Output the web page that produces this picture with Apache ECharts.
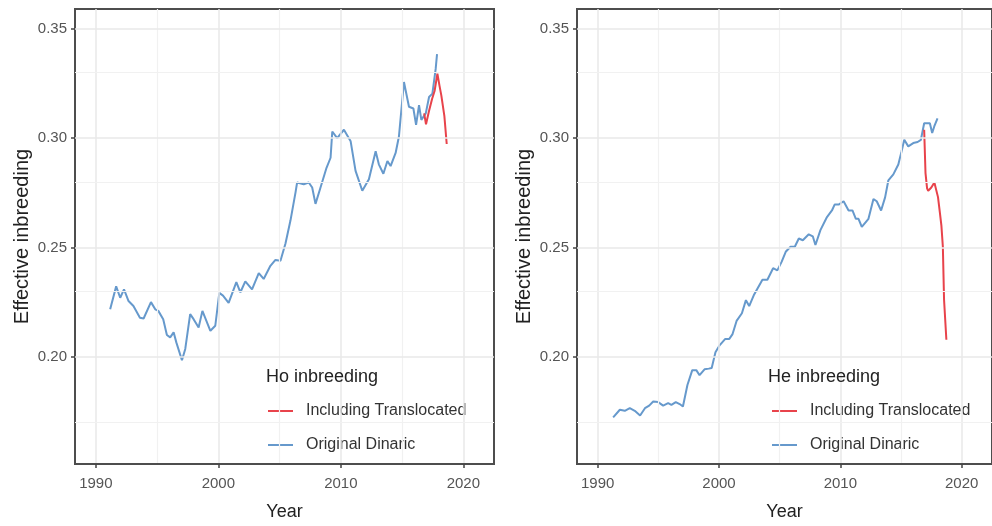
<!DOCTYPE html>
<html>
<head>
<meta charset="utf-8">
<script src="https://cdn.jsdelivr.net/npm/echarts@6/dist/echarts.min.js"></script>
<style>
  html, body { margin: 0; padding: 0; background: #fff; }
  #chart { width: 992px; height: 526px; }
</style>
</head>
<body>
<div id="chart"></div>
<script>
// Observed heterozygosity (Ho) based inbreeding
const hoOrigYears = [1991.17,1991.66,1991.99,1992.3,1992.67,1993.07,1993.6,1993.9,1994.5,1994.85,1995.1,1995.5,1995.8,1996.07,1996.35,1996.57,1997.03,1997.3,1997.7,1997.98,1998.39,1998.7,1999.35,1999.75,2000.08,2000.38,2000.84,2001.47,2001.8,2002.2,2002.75,2003.3,2003.7,2004.25,2004.66,2005.07,2005.48,2005.89,2006.3,2006.43,2006.97,2007.38,2007.66,2007.93,2008.34,2008.83,2009.16,2009.3,2009.7,2010.25,2010.8,2011.2,2011.75,2012.29,2012.84,2013.1,2013.47,2013.8,2014.06,2014.47,2014.74,2015.15,2015.56,2015.92,2016.14,2016.38,2016.57,2016.93,2017.2,2017.47,2017.74,2017.85];
const hoOrig = [0.2217,0.2322,0.2270,0.2308,0.2255,0.2232,0.2179,0.2175,0.2250,0.2217,0.2210,0.2172,0.2100,0.2089,0.2112,0.2066,0.1984,0.2036,0.2195,0.2172,0.2134,0.2210,0.2119,0.2142,0.2292,0.2280,0.2247,0.2341,0.2295,0.2345,0.2308,0.2383,0.2356,0.2416,0.2443,0.2439,0.2518,0.2624,0.2752,0.2797,0.2789,0.2797,0.2774,0.2699,0.2774,0.2864,0.2910,0.3030,0.3000,0.3038,0.2985,0.2850,0.2759,0.2812,0.2940,0.2880,0.2837,0.2895,0.2872,0.2932,0.3007,0.3256,0.3143,0.3135,0.3060,0.3150,0.3083,0.3113,0.3188,0.3203,0.3316,0.3384];
const hoTransYears = [2016.8,2016.95,2017.2,2017.45,2017.65,2017.88,2018.05,2018.2,2018.3,2018.45,2018.64];
const hoTrans = [0.3113,0.3063,0.3125,0.3180,0.3215,0.3294,0.3240,0.3195,0.3200,0.3100,0.2973];

// Expected heterozygosity (He) based inbreeding
const heOrigYears = [1991.28,1991.83,1992.24,1992.65,1993.06,1993.5,1993.9,1994.25,1994.58,1994.99,1995.4,1995.81,1996.08,1996.44,1996.76,1997.03,1997.4,1997.8,1998.13,1998.4,1998.81,1999.16,1999.4,1999.71,2000.03,2000.52,2000.85,2001.12,2001.45,2001.89,2002.22,2002.49,2002.9,2003.58,2003.99,2004.46,2004.81,2005.17,2005.5,2005.9,2006.25,2006.58,2006.91,2007.4,2007.73,2007.95,2008.36,2008.9,2009.31,2009.53,2009.86,2010.27,2010.68,2011.0,2011.28,2011.5,2011.77,2012.32,2012.73,2013.0,2013.36,2013.69,2013.96,2014.37,2014.78,2015.05,2015.27,2015.6,2016.01,2016.37,2016.64,2016.91,2017.38,2017.57,2017.74,2018.01];
const heOrig = [0.1723,0.1758,0.1753,0.1765,0.1753,0.1732,0.1765,0.1777,0.1796,0.1793,0.1777,0.1788,0.1780,0.1793,0.1784,0.1773,0.1871,0.1939,0.1939,0.1916,0.1943,0.1946,0.1949,0.2021,0.2051,0.2082,0.2082,0.2104,0.2164,0.2199,0.2259,0.2232,0.2285,0.2352,0.2352,0.2405,0.2395,0.2435,0.2480,0.2503,0.2503,0.2541,0.2533,0.2560,0.2551,0.2511,0.2579,0.2639,0.2669,0.2696,0.2696,0.2711,0.2669,0.2669,0.2631,0.2631,0.2594,0.2631,0.2721,0.2711,0.2669,0.2729,0.2807,0.2834,0.2879,0.2940,0.2992,0.2962,0.2977,0.2982,0.2992,0.3068,0.3068,0.3023,0.3053,0.3090];
const heTransYears = [2016.91,2017.02,2017.15,2017.24,2017.5,2017.75,2017.9,2018.05,2018.2,2018.33,2018.45,2018.55,2018.74];
const heTrans = [0.3038,0.2840,0.2770,0.2759,0.2774,0.2797,0.2795,0.2730,0.2661,0.2600,0.2503,0.2260,0.2078];

// Axis ticks and reference lines
const yearTicks = [1990, 2000, 2010, 2020];
const yearMinor = [1995, 2005, 2015];
const valueTicks = [0.20, 0.25, 0.30, 0.35];
const valueMinor = [0.175, 0.225, 0.275, 0.325];
const groupNames = ['Including Translocated', 'Original Dinaric'];
const panelTitles = ['Ho inbreeding', 'He inbreeding'];

const RED = '#e8434b';
const BLUE = '#6699cc';
const FONT = '"Liberation Sans", Arial, sans-serif';

const pairs = (xs, ys) => xs.map((x, i) => [x, ys[i]]);

const gridRect = [
  { left: 75, top: 9, width: 419, height: 461 },
  { left: 577, top: 9, width: 419, height: 461 }
];

function xAxisFor(idx) {
  return {
    type: 'value', gridIndex: idx, min: 1988.3, max: 2022.5,
    name: 'Year', nameLocation: 'middle', nameGap: 39,
    nameTextStyle: { fontFamily: FONT, fontSize: 18, color: '#222' },
    axisLine: { show: true, onZero: false, lineStyle: { color: '#4d4d4d', width: 2 } },
    axisTick: { show: true, customValues: yearTicks, length: 4, lineStyle: { color: '#444', width: 1.5 } },
    axisLabel: { customValues: yearTicks, margin: 12, fontFamily: FONT, fontSize: 15, color: '#555',
      formatter: v => String(Math.round(v)) },
    splitLine: { show: false },
    z: 6
  };
}
function yAxisFor(idx) {
  return {
    type: 'value', gridIndex: idx, min: 0.151, max: 0.359,
    name: 'Effective inbreeding', nameLocation: 'middle', nameGap: 43,
    nameTextStyle: { fontFamily: FONT, fontSize: 20, color: '#222' },
    axisLine: { show: false },
    axisTick: { show: true, customValues: valueTicks, length: 4, lineStyle: { color: '#444', width: 1.5 } },
    axisLabel: { customValues: valueTicks, margin: 8, fontFamily: FONT, fontSize: 15, color: '#555',
      formatter: v => v.toFixed(2) },
    splitLine: { show: false }
  };
}

function gridLines(idx) {
  const major = { color: '#e9e9e9', width: 1.5, type: 'solid' };
  const minor = { color: '#f1f1f1', width: 1.2, type: 'solid' };
  const data = []
    .concat(yearTicks.map(v => ({ xAxis: v, lineStyle: major })))
    .concat(yearMinor.map(v => ({ xAxis: v, lineStyle: minor })))
    .concat(valueTicks.map(v => ({ yAxis: v, lineStyle: major })))
    .concat(valueMinor.map(v => ({ yAxis: v, lineStyle: minor })));
  return {
    type: 'line', name: 'grid' + idx, xAxisIndex: idx, yAxisIndex: idx, data: [], z: 1,
    markLine: { silent: true, symbol: ['none', 'none'], label: { show: false }, animation: false, data }
  };
}

function lineSeries(name, idx, data, color) {
  return {
    type: 'line', name, xAxisIndex: idx, yAxisIndex: idx, data,
    symbol: 'none', showSymbol: false, z: 3, color,
    lineStyle: { color, width: 2 }
  };
}

function legendFor(idx, left) {
  return {
    orient: 'vertical', left, top: 398, data: groupNames,
    icon: 'path://M0,0H25V2H0Z',
    itemWidth: 25, itemHeight: 2, itemGap: 18,
    selectedMode: false,
    itemStyle: { borderWidth: 0 },
    textStyle: { fontFamily: FONT, fontSize: 16, color: '#333', lineHeight: 14, padding: [0, 0, 0, 8] }
  };
}

// white key panels sitting over the grid lines
const legendBox = [
  { x: 257, y: 355, w: 213, h: 113, tx: 266 },
  { x: 758, y: 355, w: 215, h: 113, tx: 768 }
];

const chart = echarts.init(document.getElementById('chart'), null, { renderer: 'canvas' });
chart.setOption({
  animation: false,
  backgroundColor: '#fff',
  grid: gridRect.map(g => Object.assign({ show: true, borderColor: '#4d4d4d', borderWidth: 2, backgroundColor: '#fff' }, g)),
  xAxis: [xAxisFor(0), xAxisFor(1)],
  yAxis: [yAxisFor(0), yAxisFor(1)],
  legend: [legendFor(0, 263), legendFor(1, 767)],
  graphic: legendBox.flatMap((b, i) => [
    { type: 'rect', shape: { x: b.x, y: b.y, width: b.w, height: b.h }, style: { fill: '#fff' }, z: 2, silent: true },
    { type: 'text', x: b.tx, y: 377, z: 10, silent: true,
      style: { text: panelTitles[i], fontFamily: FONT, fontSize: 18, fill: '#222', verticalAlign: 'middle' } }
  ]),
  series: [
    gridLines(0), gridLines(1),
    lineSeries(groupNames[1], 0, pairs(hoOrigYears, hoOrig), BLUE),
    lineSeries(groupNames[0], 0, pairs(hoTransYears, hoTrans), RED),
    lineSeries(groupNames[1], 1, pairs(heOrigYears, heOrig), BLUE),
    lineSeries(groupNames[0], 1, pairs(heTransYears, heTrans), RED)
  ]
});
</script>
</body>
</html>
